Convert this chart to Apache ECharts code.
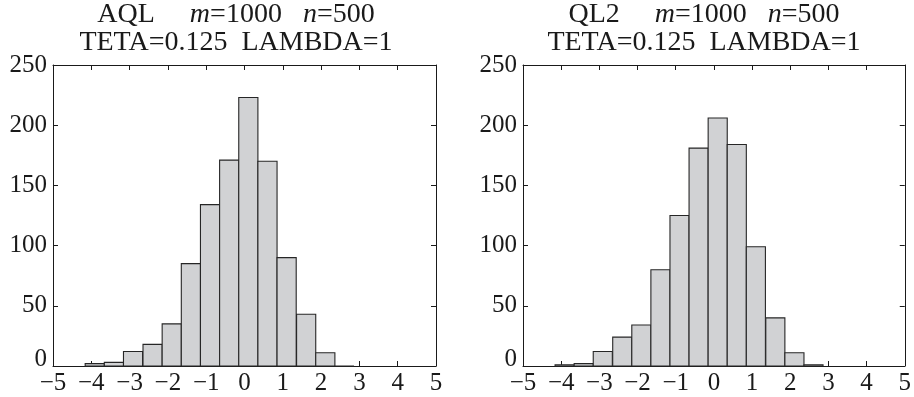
<!DOCTYPE html>
<html><head><meta charset="utf-8">
<script src="https://cdn.jsdelivr.net/npm/echarts@6/dist/echarts.min.js"></script>
<style>html,body{margin:0;padding:0;background:#fff}#c{width:914px;height:397px}</style>
</head><body><div id="c"></div>
<script>
// bin centres (x) shared by both histograms
const binCenters = [-3.91, -3.41, -2.91, -2.40, -1.90, -1.40, -0.90, -0.40, 0.10, 0.60, 1.10, 1.61, 2.11, 2.61];
const binWidth = 0.5;
const aqlCounts = [2, 3, 12, 18, 35, 85, 134, 171, 223, 170, 90, 43, 11, 0];
const ql2Counts = [1, 2, 12, 24, 34, 80, 125, 181, 206, 184, 99, 40, 11, 1];
const panelNames = ['AQL', 'QL2'];
const paramM = '1000', paramN = '500';
const subtitle = 'TETA=0.125  LAMBDA=1';
const xMin = -5, xMax = 5, xStep = 1;
const yMin = 0, yMax = 250, yStep = 50;

const FONT = 'Liberation Serif';
const ink = '#1a1a1a';
const grids = [
  {left: 53, right: 478, top: 65, bottom: 31},
  {left: 523, right: 8, top: 65, bottom: 31}
];
const titleCenters = [231, 699];

function mk() {
  return {
    type: 'custom',
    renderItem: function (params, api) {
      const c = api.value(0), h = api.value(1);
      const p0 = api.coord([c - binWidth / 2, h]);
      const p1 = api.coord([c + binWidth / 2, 0]);
      return {
        type: 'rect',
        shape: {x: p0[0], y: p0[1], width: p1[0] - p0[0], height: p1[1] - p0[1]},
        style: {fill: '#d1d2d4', stroke: '#262626', lineWidth: 1.1}
      };
    }
  };
}

const xAxes = [], yAxes = [], series = [], titles = [];
[aqlCounts, ql2Counts].forEach(function (counts, i) {
  const base = {
    type: 'value', gridIndex: i, min: xMin, max: xMax, interval: xStep,
    axisLine: {show: true, onZero: false, lineStyle: {color: ink, width: 1}},
    axisTick: {show: true, inside: true, length: 5, lineStyle: {color: ink}},
    splitLine: {show: false}
  };
  xAxes.push(Object.assign({}, base, {
    position: 'bottom',
    axisLabel: {show: true, margin: 5, fontFamily: FONT, fontSize: 25, color: ink,
      formatter: function (v) { return String(v).replace('-', '\u2212'); }}
  }));
  xAxes.push(Object.assign({}, base, {position: 'top', axisLabel: {show: false}}));
  const ybase = {
    type: 'value', gridIndex: i, min: yMin, max: yMax, interval: yStep,
    axisLine: {show: true, onZero: false, lineStyle: {color: ink, width: 1}},
    axisTick: {show: true, inside: true, length: 5, lineStyle: {color: ink}},
    splitLine: {show: false}
  };
  yAxes.push(Object.assign({}, ybase, {
    position: 'left',
    axisLabel: {show: true, margin: 6, fontFamily: FONT, fontSize: 25, color: ink,
      formatter: function (v) { return v === 0 ? '{z|0}' : String(v); },
      rich: {z: {fontFamily: FONT, fontSize: 25, color: ink, padding: [0, 0, 14, 0]}}}
  }));
  yAxes.push(Object.assign({}, ybase, {position: 'right', axisLabel: {show: false}}));
  series.push(Object.assign(mk(), {
    xAxisIndex: i * 2, yAxisIndex: i * 2,
    data: binCenters.map(function (c, k) { return [c, counts[k]]; })
  }));
  titles.push({
    text: panelNames[i] + '     {i|m}=' + paramM + '   {i|n}=' + paramN + '\n' + subtitle,
    left: titleCenters[i], top: -4, textAlign: 'center',
    textStyle: {fontFamily: FONT, fontSize: 28, fontWeight: 'normal', color: ink, lineHeight: 28,
      rich: {i: {fontFamily: FONT, fontSize: 28, fontStyle: 'italic', color: ink}}}
  });
});

const chart = echarts.init(document.getElementById('c'), null, {renderer: 'canvas'});
chart.setOption({
  animation: false,
  backgroundColor: '#fff',
  title: titles,
  grid: grids,
  xAxis: xAxes,
  yAxis: yAxes,
  series: series
});
</script></body></html>
